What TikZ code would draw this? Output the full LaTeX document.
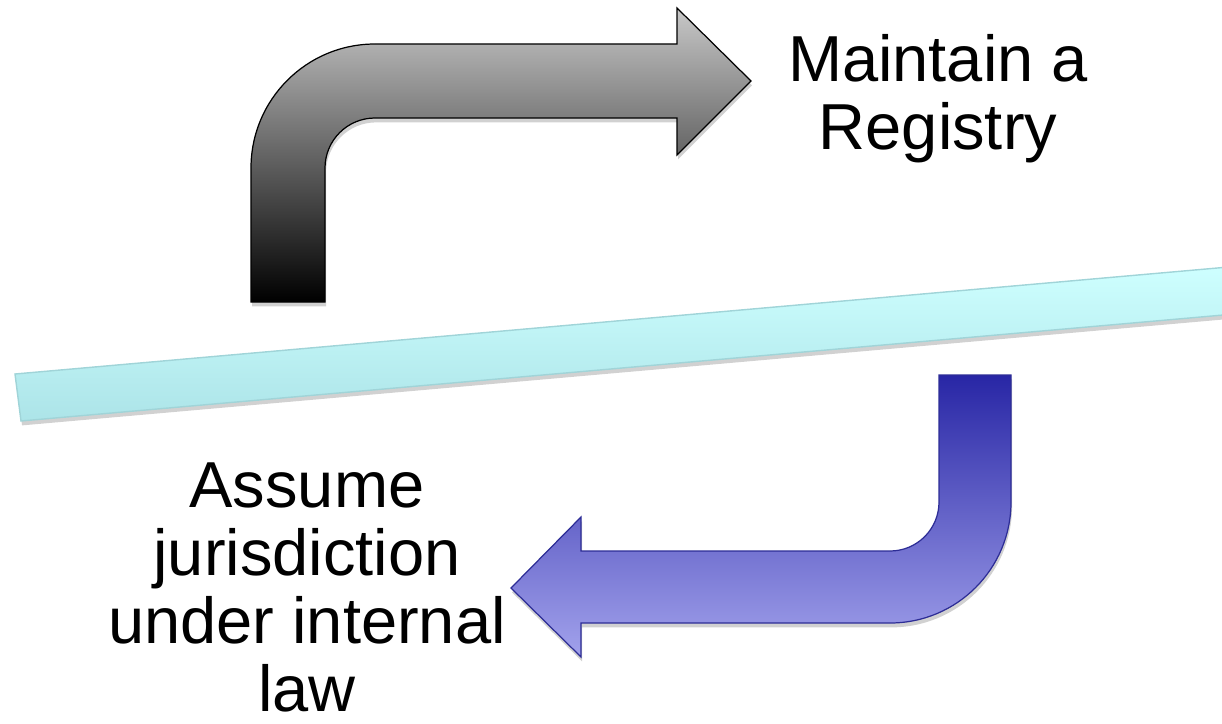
\documentclass[tikz,border=0pt]{standalone}
\usepackage{fontspec}
\setmainfont{Liberation Sans}
\usepackage{tikz}
\usepackage{xcolor}
\usetikzlibrary{shadows, positioning, calc}

\definecolor{bandtop}{RGB}{206,255,255}
\definecolor{bandbot}{RGB}{172,228,232}
\definecolor{bandline}{RGB}{160,212,216}
\definecolor{graytop}{RGB}{200,200,200}
\definecolor{graymid}{RGB}{166,166,166}
\definecolor{bluetop}{RGB}{40,38,165}
\definecolor{bluemid}{RGB}{120,120,210}
\definecolor{bluebot}{RGB}{162,162,236}
\definecolor{blueline}{RGB}{45,45,150}

\begin{document}
\begin{tikzpicture}[x=0.02cm, y=0.02cm,
  shade/.style={drop shadow={shadow xshift=0.6pt, shadow yshift=-2.5pt, opacity=0.18, fill=black}},
  caption/.style={align=center, anchor=base, font=\fontsize{37}{38.6}\selectfont}]
\clip (0,0) rectangle (1222,-723);

% Slanted band
\path[shade, draw=bandline, line width=0.8pt, top color=bandtop, bottom color=bandbot]
  (15,-374) -- (1240,-266) -- (1246,-313) -- (21,-421) -- cycle;

% Upper arrow
\path[shade, draw=black, line width=0.7pt, top color=graytop, middle color=graymid, bottom color=black]
  (251,-302) -- (251,-168) arc (180:90:124) -- (677,-44) -- (677,-8) -- (751,-81)
  -- (677,-155) -- (677,-118) -- (375,-118) arc (90:180:50) -- (325,-302) -- cycle;

% Lower arrow
\path[shade, draw=blueline, line width=0.7pt, top color=bluetop, middle color=bluemid, bottom color=bluebot]
  (939,-375) -- (1011,-375) -- (1011,-502) arc (0:-90:121) -- (581,-623) -- (581,-657)
  -- (511,-588) -- (581,-517) -- (581,-551) -- (890,-551) arc (-90:0:49) -- cycle;

% Labels (base = last line)
\node[caption] (registry) at (938,-149) {Maintain a\\Registry};
\node[caption] (jurisdiction) at (307,-711) {Assume\\jurisdiction\\under internal\\law};
\end{tikzpicture}
\end{document}
